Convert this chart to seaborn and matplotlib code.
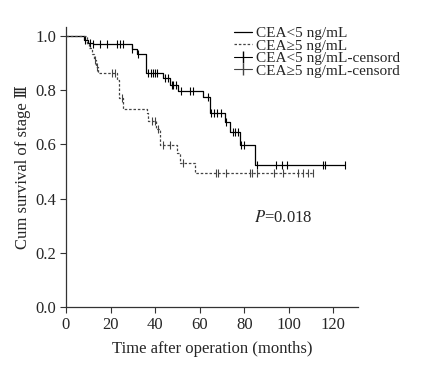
import numpy as np
import pandas as pd
import seaborn as sns
import matplotlib.pyplot as plt
from matplotlib.lines import Line2D

sns.set_style("ticks")
plt.rcParams['font.family'] = ['Liberation Serif', 'DejaVu Serif', 'Noto Sans CJK SC']
plt.rcParams['mathtext.fontset'] = 'stix'

# Kaplan-Meier steps (months, cumulative survival)
low_t = [0, 8, 10, 12, 29.5, 32, 36, 43.6, 46.6, 50.3, 61.5, 64.5, 71.2, 73.4, 78, 84.6, 125]
low_s = [1.0, 0.985, 0.975, 0.97, 0.952, 0.932, 0.863, 0.844, 0.82, 0.797, 0.776, 0.716, 0.684, 0.647, 0.598, 0.522, 0.522]
high_t = [0, 9.5, 10.5, 11.5, 12.5, 13.5, 14.5, 23, 24, 25.7, 36.2, 37, 40.6, 42, 49.6, 51, 57.8, 111]
high_s = [1.0, 0.97, 0.955, 0.935, 0.91, 0.885, 0.862, 0.838, 0.77, 0.73, 0.715, 0.688, 0.657, 0.598, 0.567, 0.532, 0.495, 0.495]

# censored observations
low_cens_t = [8.6, 10.9, 12.2, 15.3, 18.5, 22.9, 24.3, 25.6, 29.6, 32.3,
              37, 38, 39, 40, 41, 44.4, 45.7, 47.4, 48.2, 49.2, 51.8, 55.5, 57,
              63.7, 65.2, 66.5, 67.8, 69.7, 71.6, 74.8, 75.8, 77, 78.6, 80,
              85.5, 94.2, 97, 99, 115.4, 116.3, 125]
low_cens_s = [0.985, 0.975, 0.97, 0.97, 0.97, 0.97, 0.97, 0.97, 0.952, 0.932,
              0.863, 0.863, 0.863, 0.863, 0.863, 0.844, 0.844, 0.82, 0.82, 0.82, 0.797, 0.797, 0.797,
              0.776, 0.716, 0.716, 0.716, 0.716, 0.684, 0.647, 0.647, 0.647, 0.598, 0.598,
              0.522, 0.522, 0.522, 0.522, 0.522, 0.522, 0.522]
high_cens_t = [12.8, 14, 20.5, 22, 25, 38.5, 39.9, 41.4, 43.5, 46.6, 52.5,
               67.5, 68.2, 72, 82.8, 83.6, 85.8, 93.2, 97.2, 104, 106.5, 108.4, 111]
high_cens_s = [0.91, 0.885, 0.862, 0.862, 0.77, 0.688, 0.688, 0.657, 0.598, 0.598, 0.532,
               0.495, 0.495, 0.495, 0.495, 0.495, 0.495, 0.495, 0.495, 0.495, 0.495, 0.495, 0.495]

labels = ["CEA<5 ng/mL", "CEA\u22655 ng/mL", "CEA<5 ng/mL-censord", "CEA\u22655 ng/mL-censord"]

fig = plt.figure(figsize=(4.37, 3.65), dpi=100)
ax = fig.add_axes([0.151, 0.159, 0.668, 0.767])

sns.lineplot(x=low_t, y=low_s, drawstyle='steps-post', estimator=None, sort=False,
             color='black', linewidth=0.9, ax=ax)
sns.lineplot(x=high_t, y=high_s, drawstyle='steps-post', estimator=None, sort=False,
             color='#444444', linewidth=0.9, linestyle=(0, (2, 1.5)), ax=ax)
sns.scatterplot(x=low_cens_t, y=low_cens_s, marker='|', s=30, color='black',
                linewidth=0.8, ax=ax)
sns.scatterplot(x=high_cens_t, y=high_cens_s, marker='|', s=30, color='#444444',
                linewidth=0.8, ax=ax)

ax.set_xlim(0, 131)
ax.set_ylim(0, 1.033)
ax.set_xticks(np.arange(0, 121, 20))
ax.set_yticks(np.arange(0, 1.01, 0.2))
ax.set_yticklabels([f"{v:.1f}" for v in np.arange(0, 1.01, 0.2)])
ax.tick_params(labelsize=12, length=4, width=0.8, pad=3, color='#333333')
for s in ['left', 'bottom']:
    ax.spines[s].set_linewidth(0.9)
    ax.spines[s].set_color('#333333')
sns.despine(ax=ax)

ax.set_xlabel("Time after operation (months)", fontsize=12, labelpad=6)
ax.set_ylabel("Cum survival of stage \u2162", fontsize=12, labelpad=3)

ax.text(84.5, 0.33, "$P$=0.018", fontsize=12, va='center', ha='left')

handles = [
    Line2D([], [], color='black', linewidth=0.9),
    Line2D([], [], color='#444444', linewidth=0.9, linestyle=(0, (2, 1.5))),
    Line2D([], [], color='black', linewidth=0.8, marker='|', markersize=9),
    Line2D([], [], color='#444444', linewidth=0.8, marker='|', markersize=9),
]
fig.legend(handles, labels, loc='upper left', bbox_to_anchor=(0.51, 0.957),
           frameon=False, fontsize=11, labelspacing=-0.08, handlelength=1.2,
           handletextpad=0.3, borderpad=0.2)

fig.savefig("out.png", dpi=100)
